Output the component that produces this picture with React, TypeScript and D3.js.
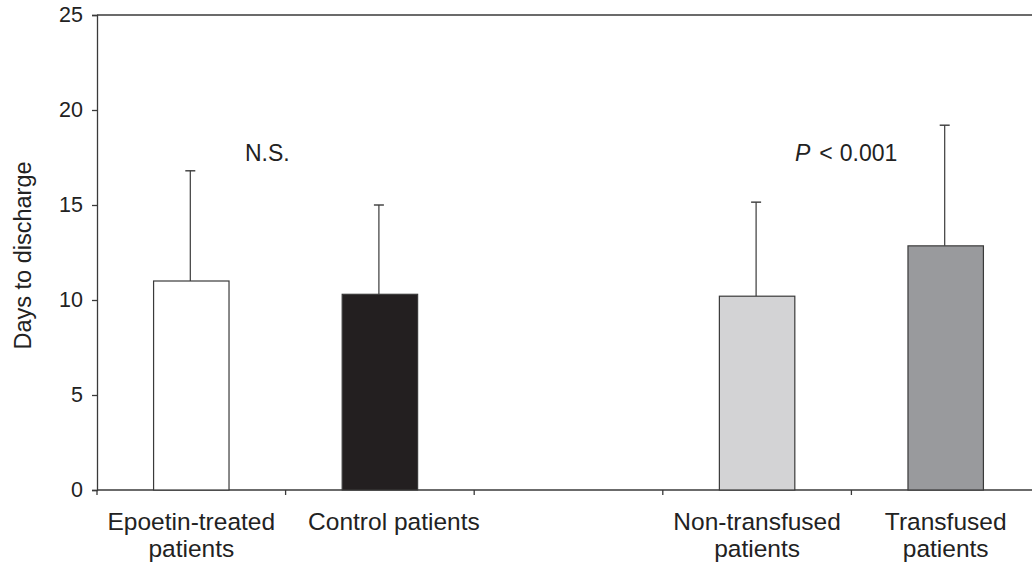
import { useEffect, useRef } from "react";
import * as d3 from "d3";

// data
const categories = ["Epoetin-treated patients", "Control patients", "", "Non-transfused patients", "Transfused patients"];
const labelLines = [["Epoetin-treated", "patients"], ["Control patients"], [], ["Non-transfused", "patients"], ["Transfused", "patients"]];
const means = [11.0, 10.3, null, 10.2, 12.85];
const upperErr = [16.8, 15.0, null, 15.15, 19.2];
const barColors = ["#ffffff", "#231f20", "", "#d3d3d5", "#999a9d"];
const yTicks = [0, 5, 10, 15, 20, 25];

export default function App() {
  const ref = useRef<SVGSVGElement>(null);

  useEffect(() => {
    const width = 1032;
    const height = 562;
    const left = 97;
    const right = 1040;
    const top = 15;
    const bottom = 490;
    const font = "'Liberation Sans', Arial, Helvetica, sans-serif";

    const svg = d3.select(ref.current);
    svg.selectAll("*").remove();
    svg.attr("width", width).attr("height", height);

    const x = d3.scaleBand().domain(categories.map((c, i) => String(i))).range([left, right]).padding(0);
    const y = d3.scaleLinear().domain([0, 25]).range([bottom, top]);
    const barW = x.bandwidth() * 0.4;

    // top frame line
    svg.append("line")
      .attr("x1", left).attr("x2", right)
      .attr("y1", y(25)).attr("y2", y(25))
      .attr("stroke", "#3a3a3a").attr("stroke-width", 1.3);

    // y axis
    const yAxis = svg.append("g")
      .attr("transform", `translate(${left},0)`)
      .call(d3.axisLeft(y).tickValues(yTicks).tickSize(5).tickPadding(9));
    yAxis.select(".domain").attr("stroke", "#3a3a3a").attr("stroke-width", 1.3);
    yAxis.selectAll(".tick line").attr("stroke", "#3a3a3a").attr("stroke-width", 1.3);
    yAxis.selectAll(".tick text")
      .attr("fill", "#222")
      .style("font-family", font)
      .style("font-size", "21.5px");

    // x axis baseline + boundary ticks
    svg.append("line")
      .attr("x1", left).attr("x2", right)
      .attr("y1", bottom).attr("y2", bottom)
      .attr("stroke", "#3a3a3a").attr("stroke-width", 1.3);
    const bounds = categories.map((_, i) => x(String(i)) as number);
    svg.selectAll(".xtick")
      .data(bounds)
      .enter()
      .append("line")
      .attr("x1", (d) => d).attr("x2", (d) => d)
      .attr("y1", bottom).attr("y2", bottom + 5)
      .attr("stroke", "#3a3a3a").attr("stroke-width", 1.3);

    const data = categories.map((c, i) => ({
      key: String(i),
      mean: means[i],
      err: upperErr[i],
      color: barColors[i],
      lines: labelLines[i],
    }));
    const shown = data.filter((d) => d.mean !== null);

    // error bars (drawn first so bars sit on top)
    const errG = svg.selectAll(".err").data(shown).enter().append("g").attr("class", "err");
    errG.append("line")
      .attr("x1", (d) => (x(d.key) as number) + x.bandwidth() / 2 - 1)
      .attr("x2", (d) => (x(d.key) as number) + x.bandwidth() / 2 - 1)
      .attr("y1", (d) => y(d.mean as number))
      .attr("y2", (d) => y(d.err as number))
      .attr("stroke", "#3a3a3a").attr("stroke-width", 1.2);
    errG.append("line")
      .attr("x1", (d) => (x(d.key) as number) + x.bandwidth() / 2 - 6)
      .attr("x2", (d) => (x(d.key) as number) + x.bandwidth() / 2 + 4)
      .attr("y1", (d) => y(d.err as number))
      .attr("y2", (d) => y(d.err as number))
      .attr("stroke", "#3a3a3a").attr("stroke-width", 1.4);

    // bars
    svg.selectAll(".bar")
      .data(shown)
      .enter()
      .append("rect")
      .attr("class", "bar")
      .attr("x", (d) => (x(d.key) as number) + (x.bandwidth() - barW) / 2)
      .attr("y", (d) => y(d.mean as number))
      .attr("width", barW)
      .attr("height", (d) => bottom - y(d.mean as number))
      .attr("fill", (d) => d.color)
      .attr("stroke", "#3a3a3a")
      .attr("stroke-width", 1.2);

    // category labels (single-line label sits a little right of centre in the original)
    const lbl = svg.selectAll(".xlabel")
      .data(data)
      .enter()
      .append("text")
      .attr("class", "xlabel")
      .attr("text-anchor", "middle")
      .attr("fill", "#222")
      .style("font-family", font)
      .style("font-size", "24.5px");
    lbl.each(function (d) {
      const cx = (x(d.key) as number) + x.bandwidth() / 2 + (d.lines.length === 1 ? 14 : 0);
      d3.select(this)
        .selectAll("tspan")
        .data(d.lines)
        .enter()
        .append("tspan")
        .attr("x", cx)
        .attr("y", (_, j) => 530 + j * 27)
        .text((t) => t);
    });

    // y-axis label
    svg.append("text")
      .attr("transform", `translate(31,${(top + bottom) / 2 + 3}) rotate(-90)`)
      .attr("text-anchor", "middle")
      .attr("fill", "#222")
      .style("font-family", font)
      .style("font-size", "23.5px")
      .text("Days to discharge");

    // significance annotations
    svg.append("text")
      .attr("x", 245).attr("y", 161)
      .attr("fill", "#222")
      .style("font-family", font)
      .style("font-size", "23px")
      .text("N.S.");

    const p = svg.append("text")
      .attr("x", 795).attr("y", 161)
      .attr("fill", "#222")
      .style("font-family", font)
      .style("font-size", "23px");
    p.append("tspan").style("font-style", "italic").text("P");
    p.append("tspan").attr("dx", 9).text("<");
    p.append("tspan").attr("dx", 7).text("0.001");
  }, []);

  return <svg ref={ref} style={{ position: "absolute", left: 0, top: 0, background: "#fff" }} />;
}
